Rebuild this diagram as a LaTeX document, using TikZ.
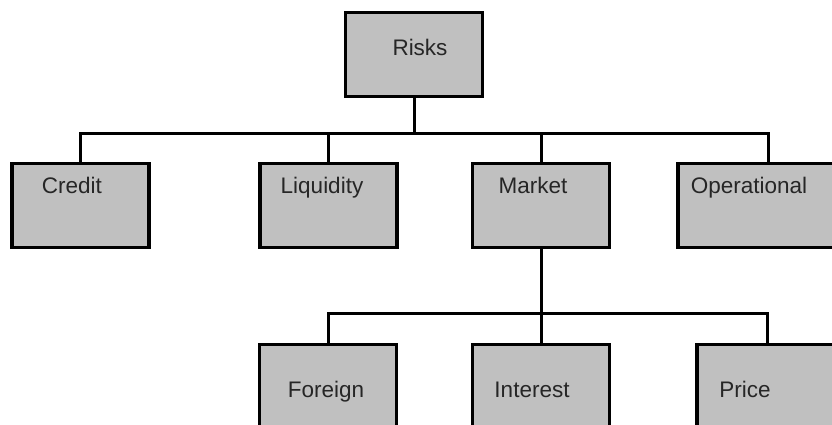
\documentclass[tikz,border=0pt]{standalone}
\usepackage{fontspec}
\setmainfont{Liberation Sans}
\definecolor{boxgray}{RGB}{192,192,192}
\newcommand{\nudge}[2]{\makebox[0pt]{\hspace*{#1}#2}}

\begin{document}
\begin{tikzpicture}[x=1pt,y=-1pt,
    riskbox/.style={draw,fill=boxgray,line width=3.3pt,inner sep=0pt,
      minimum width=137pt,minimum height=84pt,anchor=north,
      font=\fontsize{22.5}{27}\selectfont,text=black!85},
    lvlone/.style={text height=42pt,text depth=41pt},
    lvltwo/.style={text height=30pt,text depth=54pt},
    lvlthree/.style={text height=53pt,text depth=31pt},
    link/.style={line width=3pt}]
  \useasboundingbox (0,0) rectangle (832,425);
  \clip (0,0) rectangle (832,425);
  % top
  \node[riskbox,lvlone] (risks) at (414,11) {\nudge{12pt}{Risks}};
  % second row
  \node[riskbox,lvltwo] (credit) at (80.5,161.5) {\nudge{-17pt}{Credit}};
  \node[riskbox,lvltwo] (liquidity) at (328.5,161.5) {\nudge{-13pt}{Liquidity}};
  \node[riskbox,lvltwo] (market) at (541,161.5) {\nudge{-16pt}{Market}};
  \node[riskbox,lvltwo,minimum width=180pt] (operational) at (768,161.5) {\nudge{-38pt}{Operational}};
  % third row
  \node[riskbox,lvlthree] (foreign) at (328,343) {\nudge{-4pt}{Foreign}};
  \node[riskbox,lvlthree] (interest) at (541,343) {\nudge{-18pt}{Interest}};
  \node[riskbox,lvlthree,minimum width=140pt] (price) at (767,343) {\nudge{-44pt}{Price}};
  \begin{scope}[link]
    \draw (risks.south) -- ++(0,35) coordinate (bus);
    \draw (credit.north) |- (bus) -| (operational.north);
    \draw (liquidity.north) -- (liquidity.north |- bus);
    \draw (market.north) -- (market.north |- bus);
    \draw (market.south) -- ++(0,64.5) coordinate (subbus);
    \draw (foreign.north) |- (subbus) -| (price.north);
    \draw (subbus) -- (interest.north);
  \end{scope}
\end{tikzpicture}
\end{document}
